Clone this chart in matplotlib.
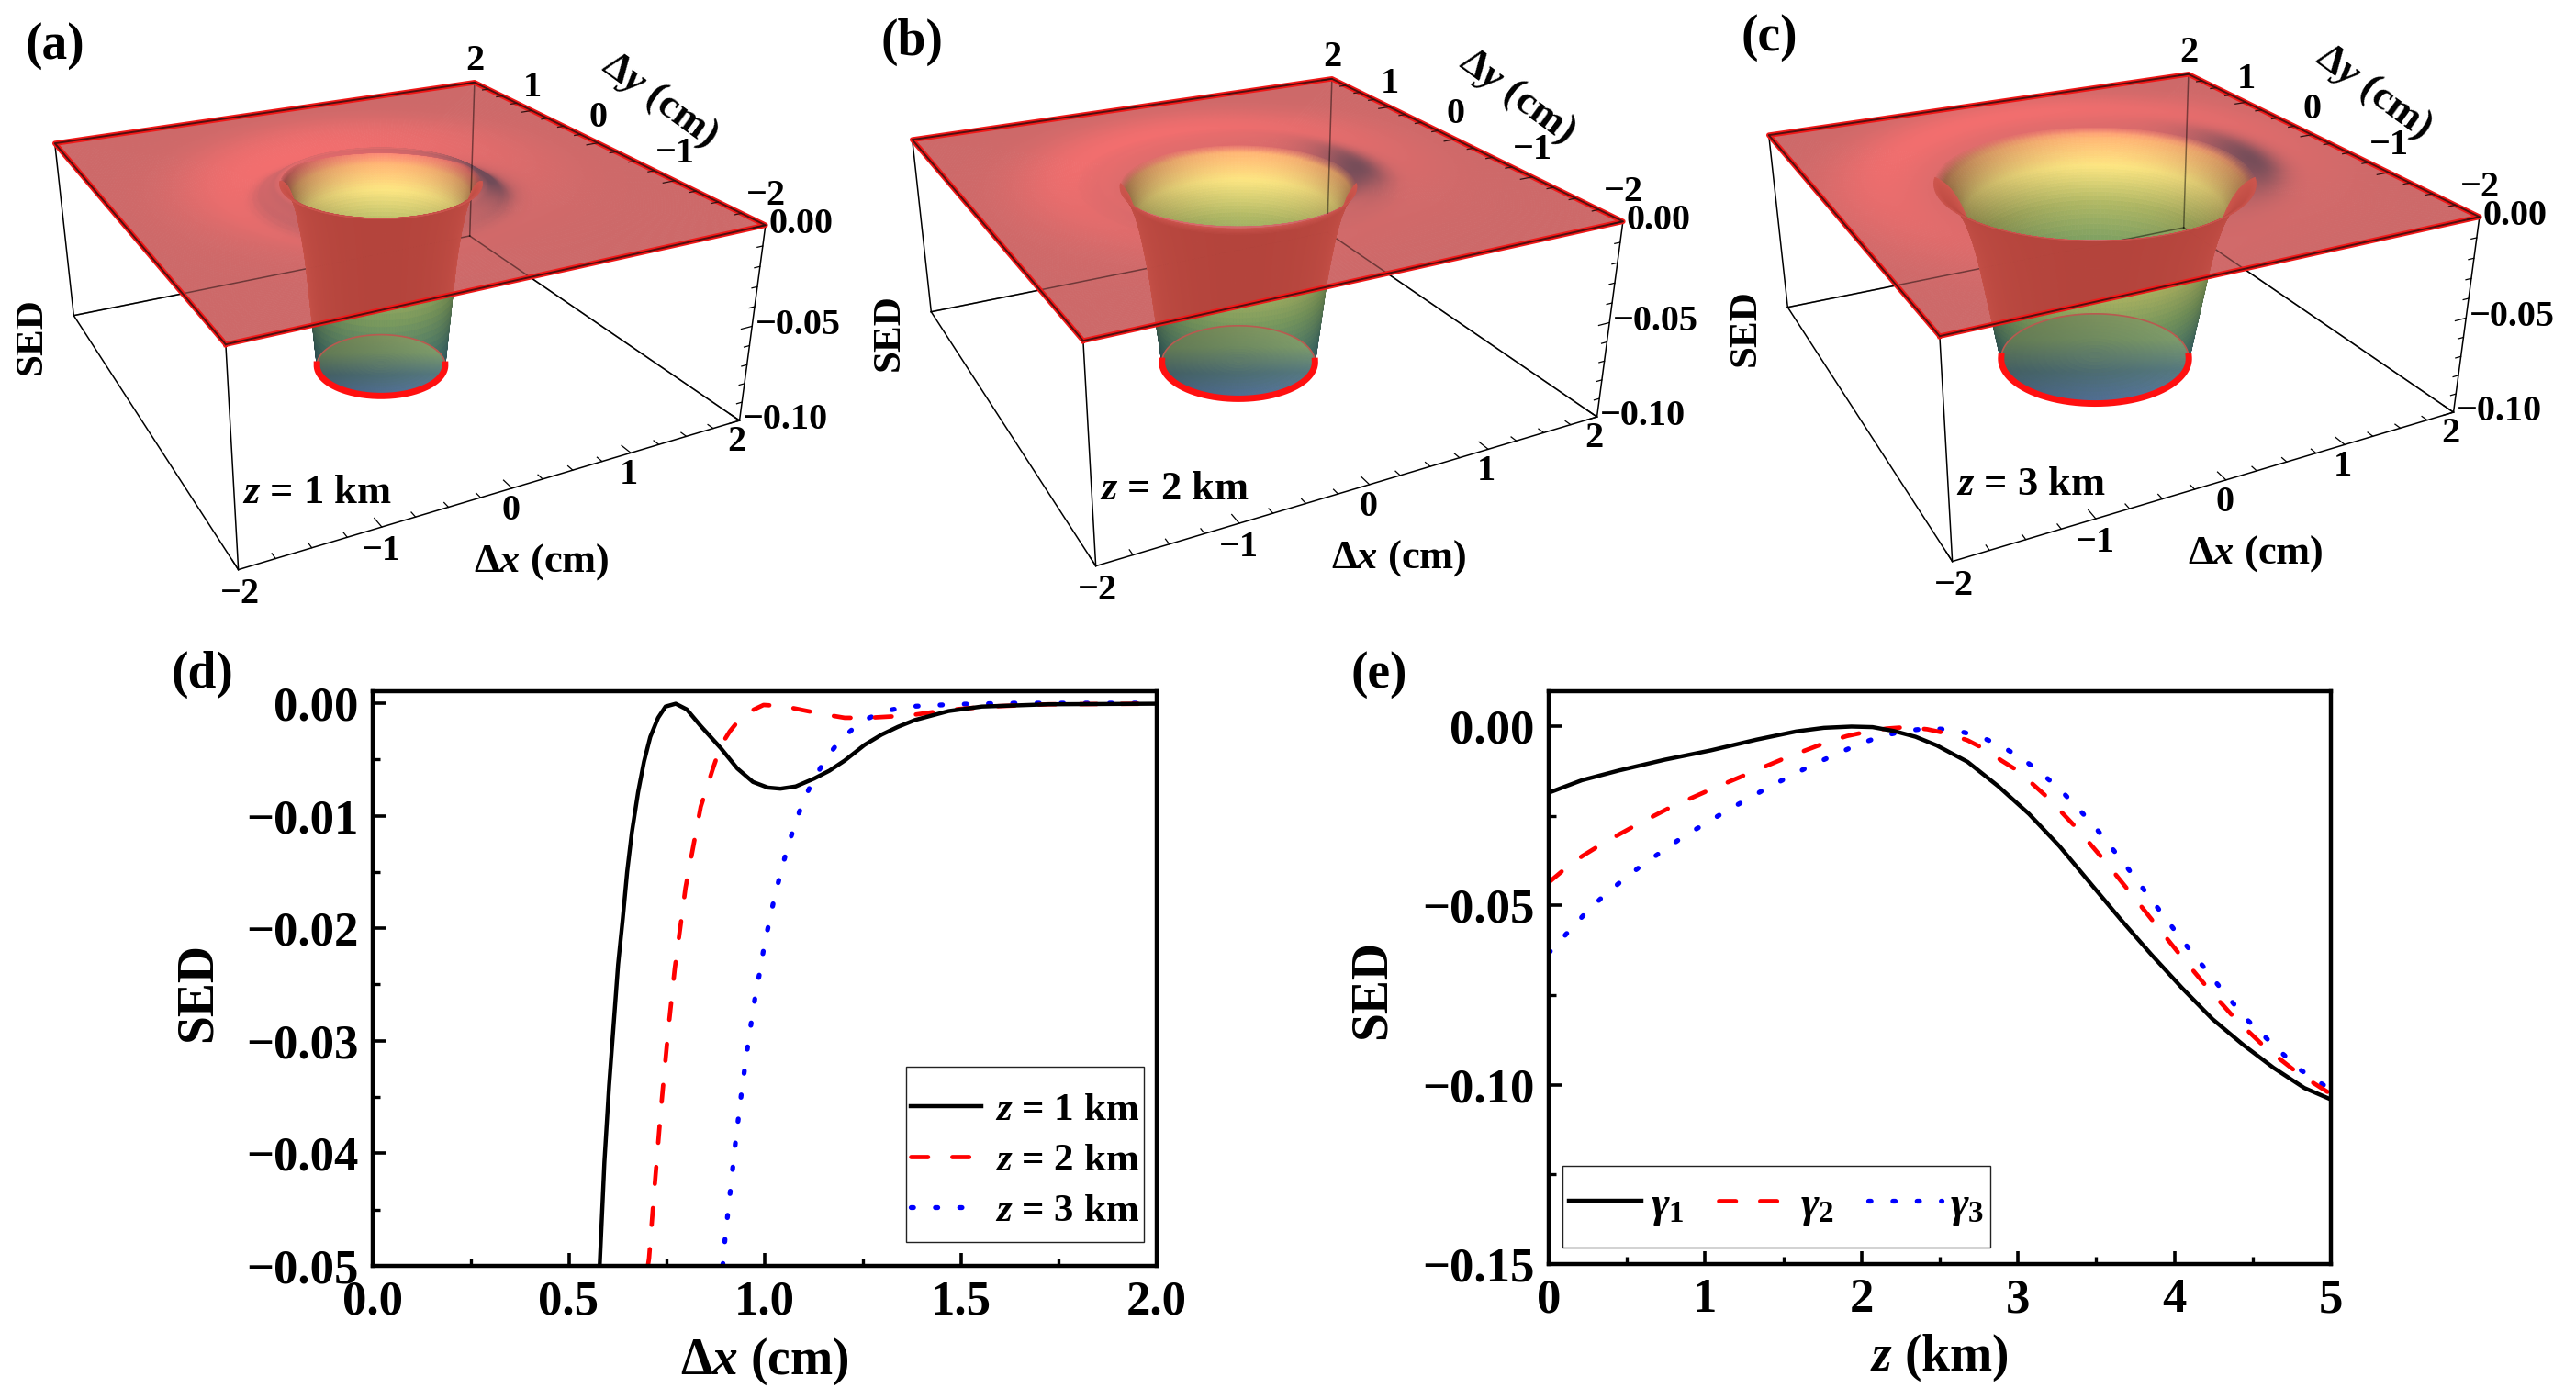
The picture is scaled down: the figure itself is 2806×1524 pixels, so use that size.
#!/usr/bin/python3

import numpy as np
from matplotlib import pyplot as plt
from matplotlib.colors import LinearSegmentedColormap
from matplotlib.patches import Polygon, Rectangle
from matplotlib.ticker import MultipleLocator, FuncFormatter
from mpl_toolkits.mplot3d import proj3d

plt.rcParams['font.family'] = ['Liberation Serif', 'DejaVu Serif']
plt.rcParams['font.weight'] = 'bold'
plt.rcParams['axes.labelweight'] = 'bold'
plt.rcParams['mathtext.fontset'] = 'custom'
plt.rcParams['mathtext.rm'] = 'Liberation Serif:bold'
plt.rcParams['mathtext.it'] = 'Liberation Serif:italic:bold'
plt.rcParams['mathtext.bf'] = 'Liberation Serif:bold'

W, H = 2806, 1524

# panel (d): SED against dx, one pair of lists per z
d_x1 = [0.579, 0.591, 0.603, 0.626, 0.638, 0.649, 0.661, 0.677, 0.692, 0.708, 0.728, 0.747, 0.773, 0.801, 0.836, 0.888, 0.93, 0.97, 1.008, 1.04, 1.079, 1.126, 1.165, 1.204, 1.255, 1.298, 1.34, 1.383, 1.469, 1.554, 1.64, 1.724, 2.0]
d_y1 = [-0.05, -0.0408, -0.034, -0.0232, -0.0191, -0.015, -0.0115, -0.0079, -0.0052, -0.003, -0.0013, -0.0003, -0.00005, -0.00055, -0.002, -0.004, -0.0058, -0.007, -0.0075, -0.0076, -0.0074, -0.0067, -0.006, -0.0051, -0.0037, -0.0028, -0.0021, -0.0015, -0.0007, -0.0003, -0.0002, -0.0001, -0.00005]
d_x2 = [0.702, 0.705, 0.719, 0.735, 0.754, 0.7705, 0.798, 0.8173, 0.8368, 0.868, 0.8876, 0.911, 0.946, 0.997, 1.047, 1.102, 1.152, 1.204, 1.264, 1.366, 1.469, 1.57, 1.724, 2.0]
d_y2 = [-0.05, -0.0493, -0.043, -0.0362, -0.029, -0.0236, -0.0164, -0.0128, -0.0092, -0.0058, -0.0038, -0.0025, -0.001, -0.00016, -0.00026, -0.00065, -0.001, -0.0013, -0.0013, -0.0011, -0.0006, -0.0003, -0.0001, -0.00005]
d_x3 = [0.893, 0.899, 0.913, 0.926, 0.9415, 0.958, 0.977, 0.989, 0.9993, 1.0124, 1.0258, 1.0415, 1.058, 1.0773, 1.098, 1.126, 1.157, 1.192, 1.247, 1.307, 1.366, 1.486, 1.64, 2.0]
d_y3 = [-0.05, -0.0475, -0.0431, -0.0388, -0.0344, -0.0301, -0.0258, -0.0236, -0.0214, -0.0193, -0.0171, -0.015, -0.0128, -0.0108, -0.0087, -0.0067, -0.0049, -0.0033, -0.0016, -0.0007, -0.0003, -0.0001, 0.0, 0.0]

# panel (e): SED against z
e_x1 = [0.0, 0.213, 0.448, 0.741, 1.035, 1.328, 1.582, 1.759, 1.935, 2.07, 2.208, 2.345, 2.48, 2.678, 2.874, 3.07, 3.265, 3.46, 3.656, 3.852, 4.05, 4.243, 4.44, 4.634, 4.83, 5.0]
e_y1 = [-0.0186, -0.0151, -0.0124, -0.0094, -0.0068, -0.0038, -0.0015, -0.0005, -0.00015, -0.0003, -0.0014, -0.003, -0.0054, -0.01, -0.0168, -0.0245, -0.0335, -0.0437, -0.0539, -0.0637, -0.0731, -0.0817, -0.0889, -0.0953, -0.1009, -0.1041]
e_x2 = [0.0, 0.096, 0.213, 0.321, 0.438, 0.555, 0.79, 1.035, 1.279, 1.524, 1.768, 1.905, 2.033, 2.16, 2.287, 2.42, 2.55, 2.678, 2.785, 2.893, 3.0, 3.186, 3.376, 3.548, 3.715, 3.881, 4.047, 4.218, 4.39, 4.585, 4.79, 5.0]
e_y2 = [-0.0436, -0.0401, -0.0363, -0.0334, -0.0305, -0.0277, -0.0224, -0.0177, -0.0132, -0.0087, -0.0047, -0.0028, -0.0016, -0.0007, -0.0003, -0.0009, -0.0021, -0.004, -0.0064, -0.0096, -0.0125, -0.0198, -0.0285, -0.0373, -0.0463, -0.0554, -0.0644, -0.0733, -0.0817, -0.0898, -0.0968, -0.1026]
e_x3 = [0.0, 0.23, 0.34, 0.463, 0.59, 0.855, 1.127, 1.403, 1.686, 1.98, 2.13, 2.286, 2.443, 2.6, 2.75, 2.89, 3.02, 3.14, 3.26, 3.37, 3.48, 3.68, 3.87, 4.06, 4.26, 4.46, 4.69, 4.81, 4.95, 5.0]
e_y3 = [-0.0633, -0.0524, -0.0478, -0.0433, -0.039, -0.031, -0.0239, -0.0171, -0.0108, -0.0051, -0.0028, -0.0013, -0.0006, -0.0012, -0.0028, -0.0055, -0.0089, -0.0128, -0.0173, -0.0223, -0.0275, -0.0384, -0.0494, -0.0603, -0.0712, -0.0817, -0.0913, -0.096, -0.1, -0.1012]

# panels (a)-(c): radius of the flat floor and of the top of the funnel
panel_names = ['(a)', '(b)', '(c)']
panel_z = ['1', '2', '3']
floor_r = [0.52, 0.62, 0.76]
rim_r = [0.77, 0.90, 1.22]
x_ticks3d = [-2, -1, 0, 1, 2]
y_ticks3d = [-2, -1, 0, 1, 2]
z_ticks3d = [0.00, -0.05, -0.10]

# camera of the 3d panels
ELEV, AZIM = 24.5, -116.7

wall_cmap = LinearSegmentedColormap.from_list('wall', [
    (0.0, '#3f6a78'), (0.15, '#4a7a70'), (0.4, '#7a9a5e'), (0.6, '#a8b060'),
    (0.8, '#f2dc7c'), (0.93, '#f5b070'), (1.0, '#f07070')])
floor_cmap = LinearSegmentedColormap.from_list('floor', ['#5a7aa8', '#55787f', '#7c9a6a', '#8aa065'])

plane_out = np.array([205, 105, 105]) / 255
plane_bright = np.array([242, 110, 110]) / 255
plane_dark = np.array([95, 70, 85]) / 255


def minus(s):
    return s.replace('-', '\u2212')


def tick2f(v, pos):
    return minus(f'{abs(v) if abs(v) < 1e-9 else v:.2f}')


def plane_color(R, T, rim, slope):
    near = np.exp(-((R - rim - 0.35) / 0.45) ** 2) * (0.55 + 0.45 * np.cos(T - np.radians(108)))
    near = np.clip(near, 0, 1)
    dth = (T + np.radians(12) + np.pi) % (2 * np.pi) - np.pi
    cres = np.exp(-((R - rim - 0.05) / 0.17) ** 2) * np.exp(-(dth / np.radians(32)) ** 2)
    ring = np.clip(-slope * 20, 0, 1) * 0.4 * (0.5 + 0.5 * np.abs(np.cos(T)))
    mix = np.clip(0.8 * cres + 0.5 * ring, 0, 0.85)[..., None]
    col = plane_out + (plane_bright - plane_out) * near[..., None]
    return col * (1 - mix) + plane_dark * mix


def panel3d(n, r_prof, z_prof, off_x, off_y):
    # the axes clip, so they are bigger than the box and the box is zoomed down to fit
    side = 1050
    zoom = 790 / side
    left = 415 - 0.5135 * side + off_x
    bottom = H - (300 + off_y) - 0.5135 * side
    ax = fig.add_axes([left / W, bottom / H, side / W, side / H],
                      projection='3d', computed_zorder=False)
    ax.set_proj_type('persp', focal_length=0.33 * zoom)
    ax.view_init(elev=ELEV, azim=AZIM)
    ax.set_box_aspect((4, 4, 1.58), zoom=zoom)
    ax.set_xlim(-2, 2, view_margin=0)
    ax.set_ylim(-2, 2, view_margin=0)
    ax.set_zlim(-0.1, 0, view_margin=0)
    ax.set_xticks([])
    ax.set_yticks([])
    ax.set_zticks([])
    ax.set_axis_off()
    ax.patch.set_alpha(0)
    M = ax.get_proj()

    def label3d(x, y, z, s, **kw):
        px, py, _ = proj3d.proj_transform(np.array([x]), np.array([y]), np.array([z]), M)
        ax.text2D(px[0], py[0], s, transform=ax.transData, va='center', fontsize=29, **kw)

    rim = rim_r[n]
    fl = floor_r[n]
    az = np.radians(AZIM)
    rp = np.array([0, fl] + list(r_prof))
    zp = np.array([-0.1, -0.1] + list(z_prof))
    rs = np.linspace(0, 3.2, 400)
    ds = np.gradient(np.interp(rs, rp, zp), rs)

    # box lines behind everything
    kw = dict(color='black', lw=1.1, zorder=1)
    back_lines = [([2, 2], [2, 2], [-0.1, 0]),
                  ([-2, 2], [2, 2], [-0.1, -0.1]),
                  ([2, 2], [-2, 2], [-0.1, -0.1])]
    for l in back_lines:
        ax.plot(*l, **kw)

    # funnel wall
    th = np.linspace(0, 2 * np.pi, 181)
    rr = np.linspace(fl, rim, 60)
    T, R = np.meshgrid(th, rr)
    Z = np.interp(R, rp, zp)
    cols = wall_cmap((Z + 0.1) / 0.1)
    light = 0.66 + 0.36 * np.abs(np.cos(T - az)) + 0.05 * np.cos(T)
    cols[..., :3] = np.clip(cols[..., :3] * light[..., None], 0, 1)
    p = (R - fl) / (rim - fl)
    b = np.clip((p - 0.85) / 0.15, 0, 1)[..., None]
    rim_col = plane_color(np.full(R.shape, rim), T, rim, np.interp(rim, rs, ds) * np.ones(R.shape))
    cols[..., :3] = cols[..., :3] * (1 - b) + rim_col * b
    ax.plot_surface(R * np.cos(T), R * np.sin(T), Z, facecolors=cols, shade=False,
                    rstride=1, cstride=1, linewidth=0.5, zorder=2)

    # floor of the funnel
    rr = np.linspace(0, fl, 14)
    T, R = np.meshgrid(th, rr)
    depth = (R / fl) * np.cos(T - az - np.pi)
    cols = floor_cmap(0.5 + 0.5 * depth)
    side_shade = 0.9 + 0.12 * (R / fl) * np.sin(T - az)
    cols[..., :3] = np.clip(cols[..., :3] * side_shade[..., None], 0, 1)
    ax.plot_surface(R * np.cos(T), R * np.sin(T), np.full(R.shape, -0.1), facecolors=cols,
                    shade=False, rstride=1, cstride=1, linewidth=0.5, zorder=3)

    t = np.linspace(0, 2 * np.pi, 300)
    rx, ry = fl * np.cos(t), fl * np.sin(t)
    front = np.cos(t - az) > 0
    ax.plot(np.where(front, np.nan, rx), np.where(front, np.nan, ry), -0.1 * np.ones(300),
            color='#b85a50', lw=1.2, zorder=3.5)

    # plane with the hole, mesh runs from the rim to the square edge
    th2 = np.linspace(0, 2 * np.pi, 361)
    edge = 2 / np.maximum(np.abs(np.cos(th2)), np.abs(np.sin(th2)))
    frac = np.linspace(0, 1, 90) ** 1.4
    T = np.tile(th2, (90, 1))
    R = rim + np.outer(frac, edge - rim)
    Z = np.interp(R, rp, zp)
    slope = np.interp(R, rs, ds)
    cols = plane_color(R, T, rim, slope)
    ax.plot_surface(R * np.cos(T), R * np.sin(T), Z, facecolors=cols, shade=False,
                    rstride=1, cstride=1, linewidth=0.5, zorder=4)

    # the back lines show faintly through the plane
    for l in back_lines:
        ax.plot(*l, color='black', lw=1.1, alpha=0.45, zorder=4.2)

    # front of the funnel seen through the plane
    th3 = np.linspace(az - np.pi / 2, az + np.pi / 2, 91)
    rr = np.linspace(fl, rim, 40)
    T, R = np.meshgrid(th3, rr)
    Z = np.interp(R, rp, zp)
    w = np.abs(np.cos(T - az))[..., None] ** 0.6
    top = np.clip((R - rim + 0.05) / 0.05, 0, 1)[..., None]
    cols = np.array([208, 88, 78]) / 255 * (1 - w) + np.array([180, 68, 60]) / 255 * w
    cols = cols * (1 - top) + np.array([205, 85, 78]) / 255 * top
    ghost = ax.plot_surface(R * np.cos(T), R * np.sin(T), Z, facecolors=cols, shade=False,
                            rstride=1, cstride=1, linewidth=0.5, zorder=4.5)
    sx = [-2, 2, 2, -2, -2]
    sy = [-2, -2, 2, 2, -2]
    px, py, _ = proj3d.proj_transform(np.array(sx), np.array(sy), np.zeros(5), M)
    ghost.set_clip_path(Polygon(np.column_stack([px, py]), closed=True, transform=ax.transData))

    ax.plot(np.where(front, rx, np.nan), np.where(front, ry, np.nan), -0.1 * np.ones(300),
            color='#ff1010', lw=5, zorder=5)

    # box lines in front
    kw = dict(color='black', lw=1.1, zorder=5)
    ax.plot([-2, -2], [-2, -2], [-0.1, 0], **kw)
    ax.plot([2, 2], [-2, -2], [-0.1, 0], **kw)
    ax.plot([-2, -2], [2, 2], [-0.1, 0], **kw)
    ax.plot([-2, 2], [-2, -2], [-0.1, -0.1], **kw)
    ax.plot([-2, -2], [-2, 2], [-0.1, -0.1], **kw)

    # square edge of the plane
    ax.plot(sx, sy, [0] * 5, color='#f01818', lw=4, zorder=6)
    ax.plot(sx, sy, [0] * 5, color='#501010', lw=1.4, zorder=7)

    # ticks
    for v in np.arange(-2, 2.01, 0.25):
        ln = 0.11 if v == int(v) else 0.06
        ax.plot([v, v], [-2, -2 + ln], [-0.1, -0.1], color='black', lw=0.9, zorder=5)
        ax.plot([2, 2 - ln], [v, v], [0, 0], color='#301010', lw=0.9, zorder=7)
    for v in np.arange(-0.1, 0.001, 0.01):
        ln = 0.1 if abs(round(v / 0.05) - v / 0.05) < 1e-6 else 0.05
        ax.plot([2, 2 - ln], [-2, -2], [v, v], color='black', lw=0.9, zorder=5)

    for v in x_ticks3d:
        label3d(v, -2, -0.112, minus(str(v)), ha='center')
    for v in y_ticks3d:
        label3d(2.03, v + 0.06, 0.012, minus(str(v)), ha='center')
    for v in z_ticks3d:
        label3d(2.03, -2, v, minus(f'{v:.2f}'), ha='left')

    fig.text((60 + off_x) / W, 1 - (50 + off_y) / H, panel_names[n], ha='center', va='center', fontsize=40)
    fig.text((35 + off_x) / W, 1 - (366 + off_y) / H, 'SED', rotation=90, ha='center', va='center', fontsize=31)
    fig.text((345 + off_x) / W, 1 - (537 + off_y) / H, f'$z$ = {panel_z[n]} km', ha='center', va='center', fontsize=32)
    fig.text((590 + off_x) / W, 1 - (612 + off_y) / H, '\u0394$x$ (cm)', ha='center', va='center', fontsize=32)
    fig.text((719 + off_x) / W, 1 - (109 + off_y) / H, '\u0394$y$ (cm)', rotation=-36, ha='center', va='center', fontsize=32)


fig = plt.figure(figsize=(W / 100, H / 100), dpi=100)

panel3d(0, d_x1, d_y1, 0, 0)
panel3d(1, d_x2, d_y2, 934, -4)
panel3d(2, d_x3, d_y3, 1867, -9)


def style2d(ax):
    for s in ax.spines.values():
        s.set_linewidth(3.2)
    ax.tick_params(which='major', direction='in', length=10, width=2.6, labelsize=38, pad=11)
    ax.tick_params(which='minor', direction='in', length=5.5, width=2.4)


line_kw = [dict(color='black', lw=3.2, ls='-'),
           dict(color='red', lw=3.4, ls=(0, (3.9, 5.6)), dash_capstyle='round'),
           dict(color='blue', lw=3.8, ls=(0, (0.5, 4.5)), dash_capstyle='round')]

# panel (d)
ax = fig.add_axes([406 / W, 1 - 1379 / H, 854 / W, 626 / H])
ax.plot(d_x3, d_y3, **line_kw[2], label='$z$ = 3 km')
ax.plot(d_x2, d_y2, **line_kw[1], label='$z$ = 2 km')
ax.plot(d_x1, d_y1, **line_kw[0], label='$z$ = 1 km')
ax.set_xlim(0, 2)
ax.set_ylim(-0.05, 0.00106)
ax.xaxis.set_major_locator(MultipleLocator(0.5))
ax.xaxis.set_minor_locator(MultipleLocator(0.25))
ax.yaxis.set_major_locator(MultipleLocator(0.01))
ax.yaxis.set_minor_locator(MultipleLocator(0.005))
ax.yaxis.set_major_formatter(FuncFormatter(tick2f))
ax.xaxis.set_major_formatter(FuncFormatter(lambda v, pos: f'{v:.1f}'))
style2d(ax)
ax.set_xlabel('\u0394$x$ (cm)', fontsize=40)
ax.set_ylabel('SED', fontsize=40)
ax.xaxis.set_label_coords(0.5, -0.122)
ax.yaxis.set_label_coords(-0.192, 0.476)
ax.add_patch(Rectangle((581 / 854, 26 / 626), 259 / 854, 191 / 626, transform=ax.transAxes,
                       fc='white', ec='#222222', lw=1, zorder=4))
h, l = ax.get_legend_handles_labels()
ax.legend(h[::-1], l[::-1], loc='center', bbox_to_anchor=((581 + 129.5) / 854, (26 + 88.5) / 626),
          borderaxespad=0, borderpad=0, fontsize=31, handlelength=1.78, handletextpad=0.36,
          labelspacing=0.36, frameon=False)

# panel (e)
ax = fig.add_axes([1687 / W, 1 - 1377 / H, 852 / W, 624 / H])
ax.plot(e_x3, e_y3, **line_kw[2], label=r'$\gamma_{3}$')
ax.plot(e_x2, e_y2, **line_kw[1], label=r'$\gamma_{2}$')
ax.plot(e_x1, e_y1, **line_kw[0], label=r'$\gamma_{1}$')
ax.set_xlim(0, 5)
ax.set_ylim(-0.15, 0.0097)
ax.xaxis.set_major_locator(MultipleLocator(1))
ax.xaxis.set_minor_locator(MultipleLocator(0.5))
ax.yaxis.set_major_locator(MultipleLocator(0.05))
ax.yaxis.set_minor_locator(MultipleLocator(0.025))
ax.yaxis.set_major_formatter(FuncFormatter(tick2f))
style2d(ax)
ax.set_xlabel('$z$ (km)', fontsize=40)
ax.set_ylabel('SED', fontsize=40)
ax.xaxis.set_label_coords(0.499, -0.12)
ax.yaxis.set_label_coords(-0.195, 0.479)
ax.add_patch(Rectangle((15 / 852, 18 / 624), 466 / 852, 89 / 624, transform=ax.transAxes,
                       fc='white', ec='#222222', lw=1, zorder=4))
h, l = ax.get_legend_handles_labels()
ax.legend(h[::-1], l[::-1], loc='center', bbox_to_anchor=((15 + 233) / 852, (18 + 44.5) / 624), ncol=3,
          borderaxespad=0, borderpad=0, fontsize=34, handlelength=1.68, handletextpad=0.2,
          columnspacing=0.8, frameon=False)

fig.text(220 / W, 1 - 735 / H, '(d)', ha='center', va='center', fontsize=40)
fig.text(1502 / W, 1 - 735 / H, '(e)', ha='center', va='center', fontsize=40)

fig.savefig('out.png', dpi=100)
